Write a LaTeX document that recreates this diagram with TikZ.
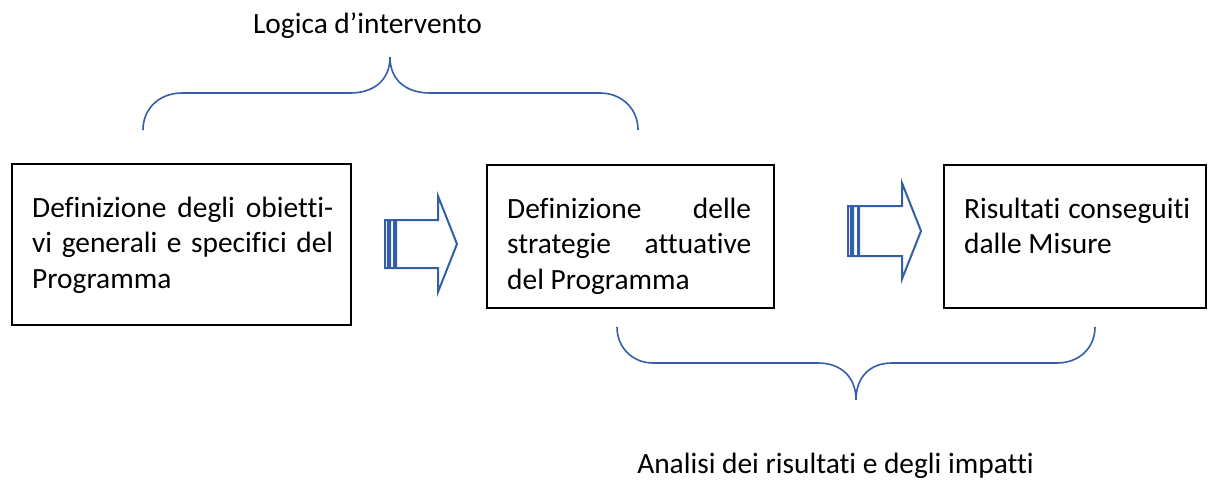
\documentclass[tikz,border=0pt]{standalone}
\usepackage{fontspec}
\setmainfont{Carlito}[Ligatures=NoCommon]
\usetikzlibrary{positioning}
\definecolor{blugraffa}{RGB}{52,94,170}
\tolerance=10000
\hbadness=10000

\begin{document}
\begin{tikzpicture}[x=1pt,y=-1pt,
    font=\fontsize{29.4}{35.5}\selectfont,
    box/.style={draw=black,line width=1.6pt,anchor=north west,inner sep=0pt},
    boxtext/.style={inner sep=0pt,align=justify,below right=33.5pt and 21pt of #1.north west},
    graffa/.style={draw=blugraffa,line width=1.6pt},
    freccia/.style={draw=blugraffa,line width=2pt,line join=miter}]
  \useasboundingbox (0,0) rectangle (1209,479);

  % riquadri
  \node[box,minimum width=339pt,minimum height=161pt] (obiettivi) at (11,163) {};
  \node[box,minimum width=287pt,minimum height=143pt] (strategie) at (486,164) {};
  \node[box,minimum width=262pt,minimum height=143pt] (risultati) at (943,164) {};

  \node[boxtext=obiettivi,text width=301pt] (obiettivi-t)
    {Definizione degli obietti-\linebreak vi generali e specifici del\linebreak Programma};
  \node[boxtext=strategie,text width=244pt] (strategie-t)
    {Definizione delle\linebreak strategie attuative\linebreak del Programma};
  \node[boxtext=risultati,text width=226pt] (risultati-t)
    {Risultati conseguiti\linebreak dalle Misure};

  % frecce a strisce
  \draw[freccia,shift={(385,244)}] (0,-24) rectangle (3,24) (5,-24) rectangle (9,24)
    (11,-24) -- (53,-24) -- (53,-48) -- (72,0) -- (53,48) -- (53,24) -- (11,24) -- cycle;
  \draw[freccia,shift={(848,231)}] (0,-25) rectangle (3,25) (5,-25) rectangle (10,25)
    (11,-25) -- (54,-25) -- (54,-48) -- (73,0) -- (54,48) -- (54,25) -- (11,25) -- cycle;

  % graffe
  \draw[graffa] (143,130) .. controls (143,108) and (160,93) .. (182,93) -- (350,93)
    .. controls (374,93) and (390,80) .. (390,57)
    .. controls (390,80) and (406,93) .. (430,93) -- (600,93)
    .. controls (621,93) and (638,108) .. (638,130);
  \draw[graffa] (617,327) .. controls (617,348) and (633,363) .. (653,363) -- (818,363)
    .. controls (841,363) and (856,377) .. (856,400)
    .. controls (856,377) and (870,363) .. (892,363) -- (1057,363)
    .. controls (1079,363) and (1095,348) .. (1095,327);

  \node[anchor=base,inner sep=0pt] (logica) at (367.5,33) {Logica d’intervento};
  \node[anchor=base,inner sep=0pt] (analisi) at (835.5,473) {Analisi dei risultati e degli impatti};
\end{tikzpicture}
\end{document}
